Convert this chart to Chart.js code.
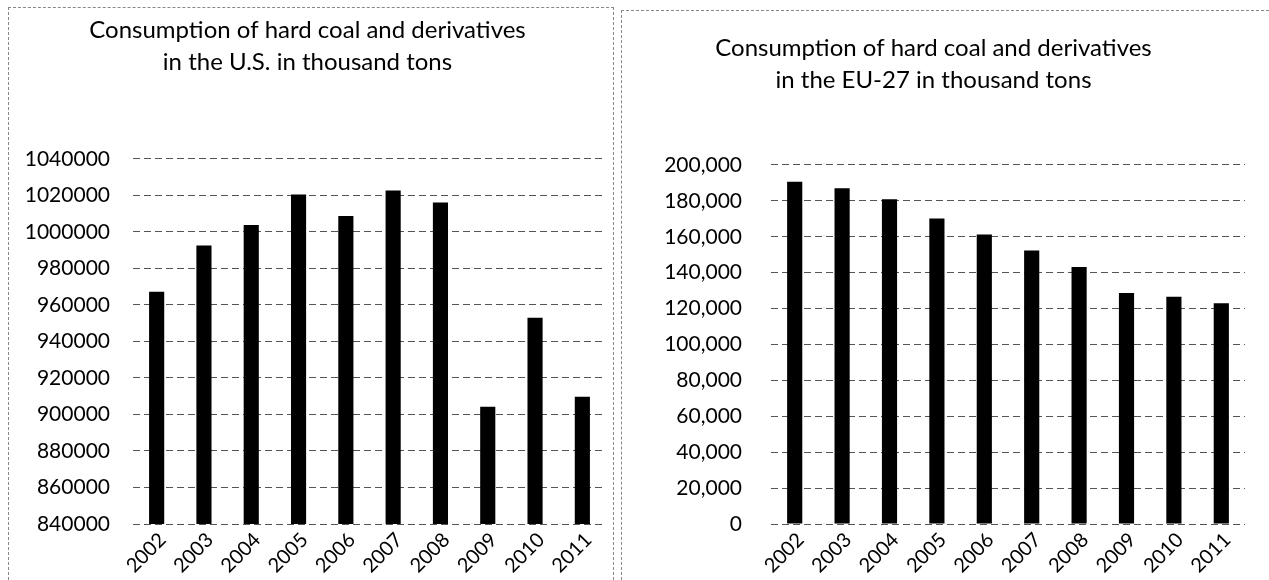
<!DOCTYPE html>
<html>
<head>
<meta charset="utf-8">
<script src="https://cdn.jsdelivr.net/npm/chart.js@4.4.1/dist/chart.umd.min.js"></script>
<style>
  html, body { margin: 0; padding: 0; background: #fff; }
  body { width: 1269px; height: 580px; position: relative; overflow: hidden; }
  .panel { position: absolute; box-sizing: border-box; }
  #usPanel { left: 8px; top: 7px; width: 606px; height: 573px;
    border-left: 1px dashed #888; border-top: 1px dashed #888; border-right: 1px dashed #888; }
  #euPanel { left: 621px; top: 10px; width: 648px; height: 570px;
    border-left: 1px dashed #888; border-top: 1px dashed #888; }
  canvas { display: block; }
</style>
</head>
<body>
<div class="panel" id="usPanel"><canvas id="usChart"></canvas></div>
<div class="panel" id="euPanel"><canvas id="euChart"></canvas></div>
<script>
// years on the category axis
const years = ['2002', '2003', '2004', '2005', '2006', '2007', '2008', '2009', '2010', '2011'];

// consumption in thousand tons
const usConsumption = [967300, 992600, 1003800, 1020500, 1008700, 1022700, 1016200, 904200, 953000, 909700];
const euConsumption = [190700, 187000, 180900, 170200, 161300, 152300, 143100, 128700, 126600, 123000];

// value axis ranges
const usAxis = { min: 840000, max: 1040000, step: 20000 };
const euAxis = { min: 0, max: 200000, step: 20000 };

const usTitle = ['Consumption of hard coal and derivatives', 'in the U.S. in thousand tons'];
const euTitle = ['Consumption of hard coal and derivatives', 'in the EU-27 in thousand tons'];

const FONT = 'Lato, Calibri, Carlito, sans-serif';
Chart.defaults.font.family = FONT;
Chart.defaults.color = '#000';
Chart.defaults.animation = false;

function makeChart(id, title, values, axis, opts) {
  const canvas = document.getElementById(id);
  canvas.width = opts.width;
  canvas.height = opts.height;
  canvas.style.width = opts.width + 'px';
  canvas.style.height = opts.height + 'px';

  return new Chart(canvas, {
    type: 'bar',
    data: {
      labels: years,
      datasets: [{
        data: values,
        backgroundColor: '#000',
        borderWidth: 0,
        barPercentage: 0.32,
        categoryPercentage: 1
      }]
    },
    options: {
      responsive: false,
      layout: { padding: { left: 0, right: opts.padRight, top: 0, bottom: 0 } },
      plugins: {
        legend: { display: false },
        tooltip: { enabled: false },
        title: {
          display: true,
          text: title,
          color: '#000',
          font: { size: 24, weight: 'normal', lineHeight: 1.333 },
          padding: { top: opts.titleTop, bottom: opts.titleBottom }
        }
      },
      scales: {
        x: {
          grid: { display: false },
          border: { display: false },
          ticks: { minRotation: 45, maxRotation: 45, padding: -4, labelOffset: 6, font: { size: 20 } },
          afterFit: s => { s.height = opts.xHeight; }
        },
        y: {
          min: axis.min,
          max: axis.max,
          // dashed horizontal gridlines, no axis line
          border: { display: false, dash: [7, 4] },
          grid: { color: '#555', lineWidth: 1, drawTicks: false },
          ticks: {
            stepSize: axis.step,
            padding: opts.tickPad,
            font: { size: 21 },
            callback: opts.format
          },
          afterFit: s => { s.width = opts.yWidth; }
        }
      }
    }
  });
}

makeChart('usChart', usTitle, usConsumption, usAxis, {
  width: 604, height: 572,
  padRight: 7, titleTop: 6, titleBottom: 81,
  xHeight: 56, yWidth: 124, tickPad: 23,
  format: v => String(v)
});

makeChart('euChart', euTitle, euConsumption, euAxis, {
  width: 647, height: 569,
  padRight: 24, titleTop: 21, titleBottom: 69,
  xHeight: 56, yWidth: 149, tickPad: 29,
  format: v => v.toLocaleString('en-US')
});
</script>
</body>
</html>
